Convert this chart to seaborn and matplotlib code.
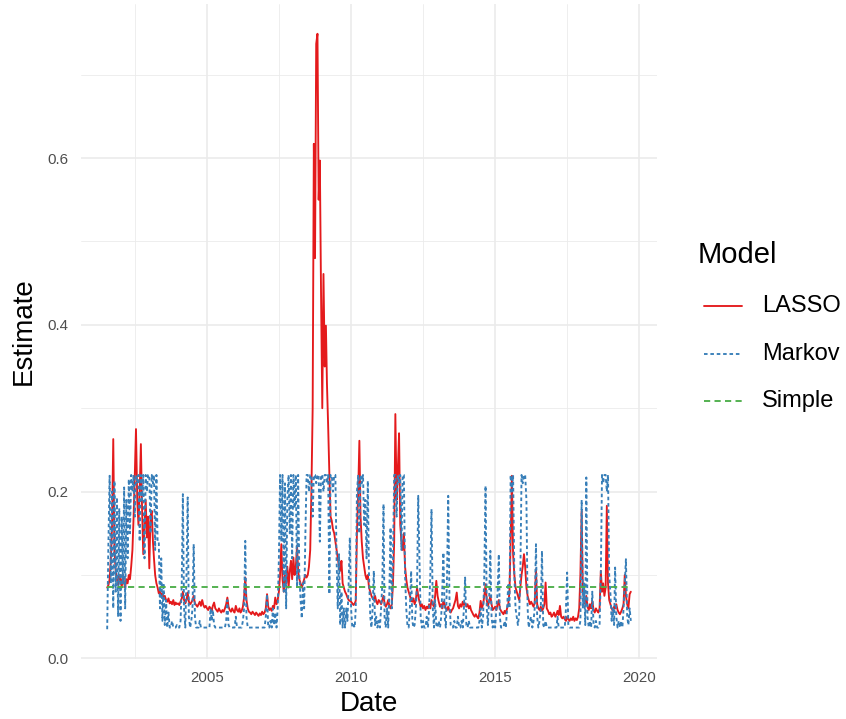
import matplotlib
matplotlib.use("Agg")
import matplotlib.pyplot as plt
import matplotlib.dates as mdates
from matplotlib.lines import Line2D
from matplotlib.ticker import FixedLocator, FuncFormatter
import pandas as pd
import seaborn as sns

# Semi-monthly estimates (1st and 16th of each month), one list per year.
# 2001 starts on 16 July; 2019 ends on 16 September.
lasso_2001 = [0.085, 0.088, 0.095, 0.12, 0.16, 0.263, 0.13, 0.105, 0.095, 0.088, 0.1]
lasso_2002 = [0.095, 0.085, 0.1, 0.09, 0.085, 0.095,
              0.09, 0.1, 0.095, 0.11, 0.13, 0.17,
              0.22, 0.275, 0.19, 0.16, 0.2, 0.257,
              0.18, 0.125, 0.16, 0.19, 0.145, 0.17]
lasso_2003 = [0.108, 0.17, 0.177, 0.14, 0.12, 0.1,
              0.09, 0.085, 0.078, 0.08, 0.075, 0.078,
              0.072, 0.075, 0.07, 0.068, 0.072, 0.066,
              0.068, 0.065, 0.07, 0.064, 0.067, 0.065]
lasso_2004 = [0.066, 0.064, 0.068, 0.072, 0.08, 0.07,
              0.066, 0.07, 0.079, 0.068, 0.065, 0.067,
              0.07, 0.075, 0.066, 0.064, 0.062, 0.065,
              0.068, 0.063, 0.07, 0.064, 0.061, 0.063]
lasso_2005 = [0.06, 0.058, 0.062, 0.06, 0.057, 0.063,
              0.067, 0.06, 0.058, 0.056, 0.06, 0.057,
              0.055, 0.058, 0.056, 0.06, 0.065, 0.073,
              0.062, 0.058, 0.056, 0.06, 0.057, 0.055]
lasso_2006 = [0.063, 0.058, 0.056, 0.06, 0.055, 0.057,
              0.062, 0.073, 0.097, 0.07, 0.06, 0.056,
              0.055, 0.053, 0.056, 0.054, 0.052, 0.055,
              0.053, 0.051, 0.054, 0.052, 0.056, 0.053]
lasso_2007 = [0.055, 0.06, 0.077, 0.062, 0.058, 0.06,
              0.057, 0.063, 0.06, 0.073, 0.065, 0.07,
              0.08, 0.1, 0.137, 0.095, 0.08, 0.1,
              0.09, 0.11, 0.085, 0.105, 0.117, 0.095]
lasso_2008 = [0.121, 0.1, 0.11, 0.135, 0.105, 0.095,
              0.09, 0.085, 0.09, 0.095, 0.1, 0.097,
              0.1, 0.11, 0.13, 0.2, 0.3, 0.617,
              0.48, 0.737, 0.749, 0.55, 0.597, 0.44]
lasso_2009 = [0.3, 0.461, 0.35, 0.399, 0.33, 0.28,
              0.22, 0.17, 0.165, 0.155, 0.15, 0.14,
              0.13, 0.12, 0.11, 0.105, 0.117, 0.09,
              0.085, 0.08, 0.077, 0.073, 0.07, 0.069]
lasso_2010 = [0.068, 0.066, 0.064, 0.066, 0.069, 0.15,
              0.2, 0.261, 0.17, 0.14, 0.12, 0.11,
              0.1, 0.095, 0.1, 0.085, 0.08, 0.075,
              0.072, 0.07, 0.075, 0.068, 0.065, 0.07]
lasso_2011 = [0.068, 0.065, 0.07, 0.075, 0.066, 0.062,
              0.065, 0.07, 0.063, 0.06, 0.065, 0.09,
              0.14, 0.293, 0.19, 0.225, 0.27, 0.16,
              0.14, 0.13, 0.15, 0.11, 0.095, 0.085]
lasso_2012 = [0.08, 0.075, 0.07, 0.068, 0.072, 0.065,
              0.07, 0.085, 0.075, 0.068, 0.062, 0.065,
              0.06, 0.063, 0.058, 0.062, 0.06, 0.065,
              0.06, 0.07, 0.065, 0.062, 0.075, 0.093]
lasso_2013 = [0.075, 0.068, 0.062, 0.065, 0.06, 0.068,
              0.065, 0.06, 0.058, 0.062, 0.057, 0.055,
              0.058, 0.06, 0.065, 0.07, 0.079, 0.063,
              0.06, 0.065, 0.062, 0.068, 0.064, 0.066]
lasso_2014 = [0.062, 0.065, 0.06, 0.063, 0.058, 0.055,
              0.052, 0.05, 0.053, 0.05, 0.048, 0.055,
              0.069, 0.06, 0.065, 0.075, 0.089, 0.07,
              0.063, 0.068, 0.075, 0.065, 0.058, 0.06]
lasso_2015 = [0.062, 0.058, 0.065, 0.07, 0.06, 0.057,
              0.055, 0.053, 0.057, 0.054, 0.06, 0.065,
              0.08, 0.14, 0.219, 0.125, 0.1, 0.085,
              0.08, 0.075, 0.07, 0.085, 0.1, 0.11]
lasso_2016 = [0.125, 0.11, 0.085, 0.075, 0.07, 0.065,
              0.068, 0.065, 0.062, 0.067, 0.107, 0.065,
              0.06, 0.058, 0.062, 0.057, 0.06, 0.065,
              0.091, 0.06, 0.057, 0.053, 0.055, 0.05]
lasso_2017 = [0.052, 0.055, 0.05, 0.053, 0.057, 0.052,
              0.063, 0.05, 0.048, 0.05, 0.047, 0.045,
              0.05, 0.047, 0.045, 0.048, 0.046, 0.05,
              0.045, 0.048, 0.046, 0.05, 0.06, 0.1]
lasso_2018 = [0.177, 0.08, 0.07, 0.065, 0.075, 0.062,
              0.058, 0.065, 0.06, 0.069, 0.058, 0.055,
              0.06, 0.057, 0.055, 0.06, 0.105, 0.08,
              0.09, 0.075, 0.085, 0.183, 0.09, 0.07]
lasso_2019 = [0.065, 0.06, 0.057, 0.062, 0.06, 0.065,
              0.058, 0.055, 0.053, 0.056, 0.06, 0.065,
              0.1, 0.075, 0.065, 0.06, 0.077, 0.08]

markov_2001 = [0.035, 0.14, 0.219, 0.09, 0.2, 0.06, 0.213, 0.08, 0.193, 0.05, 0.18]
markov_2002 = [0.045, 0.17, 0.09, 0.205, 0.06, 0.19,
               0.12, 0.215, 0.15, 0.22, 0.2, 0.22,
               0.17, 0.22, 0.21, 0.22, 0.14, 0.22,
               0.19, 0.22, 0.12, 0.22, 0.2, 0.22]
markov_2003 = [0.22, 0.15, 0.22, 0.21, 0.22, 0.13,
               0.22, 0.14, 0.14, 0.06, 0.12, 0.045,
               0.09, 0.04, 0.07, 0.037, 0.055, 0.037,
               0.037, 0.045, 0.037, 0.037, 0.037, 0.04]
markov_2004 = [0.037, 0.037, 0.045, 0.09, 0.197, 0.06,
               0.037, 0.1, 0.193, 0.05, 0.037, 0.045,
               0.06, 0.137, 0.05, 0.037, 0.037, 0.037,
               0.045, 0.037, 0.037, 0.037, 0.037, 0.037]
markov_2005 = [0.037, 0.037, 0.037, 0.06, 0.045, 0.058,
               0.04, 0.037, 0.037, 0.037, 0.037, 0.037,
               0.037, 0.037, 0.037, 0.037, 0.045, 0.07,
               0.04, 0.037, 0.037, 0.037, 0.037, 0.037]
markov_2006 = [0.05, 0.037, 0.037, 0.037, 0.037, 0.037,
               0.045, 0.06, 0.141, 0.05, 0.037, 0.037,
               0.037, 0.037, 0.037, 0.037, 0.037, 0.037,
               0.037, 0.037, 0.037, 0.037, 0.037, 0.037]
markov_2007 = [0.037, 0.05, 0.077, 0.037, 0.037, 0.045,
               0.037, 0.06, 0.04, 0.055, 0.037, 0.06,
               0.12, 0.22, 0.14, 0.22, 0.08, 0.21,
               0.06, 0.19, 0.22, 0.15, 0.22, 0.12]
markov_2008 = [0.22, 0.18, 0.22, 0.085, 0.22, 0.1,
               0.07, 0.048, 0.09, 0.06, 0.15, 0.22,
               0.22, 0.2, 0.22, 0.22, 0.17, 0.22,
               0.22, 0.21, 0.22, 0.22, 0.14, 0.22]
markov_2009 = [0.22, 0.2, 0.22, 0.22, 0.21, 0.22,
               0.077, 0.22, 0.22, 0.2, 0.22, 0.22,
               0.12, 0.06, 0.125, 0.04, 0.08, 0.037,
               0.06, 0.037, 0.06, 0.045, 0.09, 0.145]
markov_2010 = [0.06, 0.037, 0.04, 0.037, 0.06, 0.2,
               0.22, 0.15, 0.22, 0.21, 0.22, 0.16,
               0.19, 0.12, 0.213, 0.1, 0.05, 0.037,
               0.06, 0.105, 0.04, 0.05, 0.037, 0.045]
markov_2011 = [0.037, 0.06, 0.09, 0.185, 0.05, 0.037,
               0.06, 0.037, 0.08, 0.157, 0.06, 0.12,
               0.22, 0.22, 0.17, 0.22, 0.21, 0.22,
               0.13, 0.22, 0.22, 0.1, 0.06, 0.04]
markov_2012 = [0.037, 0.06, 0.105, 0.045, 0.037, 0.04,
               0.06, 0.09, 0.195, 0.12, 0.05, 0.037,
               0.045, 0.037, 0.037, 0.05, 0.037, 0.06,
               0.1, 0.179, 0.06, 0.037, 0.07, 0.04]
markov_2013 = [0.037, 0.045, 0.037, 0.05, 0.08, 0.127,
               0.05, 0.037, 0.1, 0.195, 0.07, 0.04,
               0.037, 0.037, 0.045, 0.037, 0.037, 0.05,
               0.037, 0.037, 0.045, 0.037, 0.06, 0.097]
markov_2014 = [0.04, 0.037, 0.045, 0.037, 0.037, 0.037,
               0.037, 0.037, 0.037, 0.037, 0.037, 0.045,
               0.06, 0.037, 0.05, 0.1, 0.207, 0.06,
               0.04, 0.07, 0.129, 0.05, 0.037, 0.045]
markov_2015 = [0.037, 0.06, 0.08, 0.125, 0.05, 0.037,
               0.037, 0.037, 0.045, 0.037, 0.06, 0.09,
               0.06, 0.22, 0.2, 0.22, 0.1, 0.06,
               0.05, 0.04, 0.053, 0.1, 0.22, 0.21]
markov_2016 = [0.22, 0.22, 0.19, 0.06, 0.037, 0.045,
               0.05, 0.037, 0.045, 0.06, 0.137, 0.05,
               0.037, 0.045, 0.06, 0.129, 0.04, 0.037,
               0.045, 0.037, 0.037, 0.037, 0.037, 0.037]
markov_2017 = [0.037, 0.037, 0.037, 0.037, 0.05, 0.037,
               0.037, 0.037, 0.037, 0.037, 0.037, 0.06,
               0.103, 0.04, 0.037, 0.037, 0.037, 0.037,
               0.037, 0.037, 0.037, 0.037, 0.037, 0.045]
markov_2018 = [0.19, 0.06, 0.09, 0.04, 0.217, 0.05,
               0.037, 0.045, 0.037, 0.08, 0.04, 0.037,
               0.045, 0.037, 0.037, 0.04, 0.1, 0.22,
               0.21, 0.22, 0.22, 0.2, 0.22, 0.1]
markov_2019 = [0.077, 0.045, 0.06, 0.04, 0.109, 0.05,
               0.037, 0.045, 0.037, 0.045, 0.037, 0.06,
               0.09, 0.119, 0.05, 0.04, 0.06, 0.045]

# The simple model is a single constant estimate
simple_estimate = 0.086

model_names = ["LASSO", "Markov", "Simple"]
model_colors = ["#E41A1C", "#377EB8", "#4DAF4A"]
y_breaks = [0.0, 0.2, 0.4, 0.6]
y_minor = [0.1, 0.3, 0.5, 0.7]
x_break_years = [2005, 2010, 2015, 2020]

lasso_by_year = {2001: lasso_2001, 2002: lasso_2002, 2003: lasso_2003, 2004: lasso_2004,
                 2005: lasso_2005, 2006: lasso_2006, 2007: lasso_2007, 2008: lasso_2008,
                 2009: lasso_2009, 2010: lasso_2010, 2011: lasso_2011, 2012: lasso_2012,
                 2013: lasso_2013, 2014: lasso_2014, 2015: lasso_2015, 2016: lasso_2016,
                 2017: lasso_2017, 2018: lasso_2018, 2019: lasso_2019}
markov_by_year = {2001: markov_2001, 2002: markov_2002, 2003: markov_2003, 2004: markov_2004,
                  2005: markov_2005, 2006: markov_2006, 2007: markov_2007, 2008: markov_2008,
                  2009: markov_2009, 2010: markov_2010, 2011: markov_2011, 2012: markov_2012,
                  2013: markov_2013, 2014: markov_2014, 2015: markov_2015, 2016: markov_2016,
                  2017: markov_2017, 2018: markov_2018, 2019: markov_2019}


def semimonthly_dates(year, n, first_slot):
    return [pd.Timestamp(year, 1 + k // 2, 1 if k % 2 == 0 else 16)
            for k in range(first_slot, first_slot + n)]


def series_frame(by_year, name):
    rows = []
    for year, vals in by_year.items():
        first = 13 if year == 2001 else 0   # 16 July in the first year
        for d, v in zip(semimonthly_dates(year, len(vals), first), vals):
            rows.append((d, v, name))
    return pd.DataFrame(rows, columns=["Date", "Estimate", "Model"])


lasso_df = series_frame(lasso_by_year, "LASSO")
markov_df = series_frame(markov_by_year, "Markov")
simple_df = pd.DataFrame({"Date": lasso_df["Date"],
                          "Estimate": simple_estimate,
                          "Model": "Simple"})
df = pd.concat([lasso_df, markov_df, simple_df], ignore_index=True)

sns.set_theme(style="white")
plt.rcParams["font.family"] = ["Liberation Sans", "DejaVu Sans"]
plt.rcParams["text.color"] = "black"
plt.rcParams["axes.labelcolor"] = "black"

W, H = 846, 719
fig = plt.figure(figsize=(W / 100, H / 100), dpi=100)
ax = fig.add_axes([81 / W, 1 - 659 / H, 576 / W, 655 / H])

lw = 1.35
dash_styles = {"LASSO": "", "Markov": (1.9, 1.5), "Simple": (3.3, 2.3)}
sns.lineplot(data=df, x="Date", y="Estimate", hue="Model", style="Model",
             hue_order=model_names, style_order=model_names,
             palette=dict(zip(model_names, model_colors)),
             dashes=dash_styles, estimator=None, sort=True,
             linewidth=lw, legend=False, ax=ax)
ax.margins(x=0.05, y=0.05)

# Grid in the ggplot minimal style
grid_col = "#EBEBEB"
ax.set_axisbelow(True)
ax.yaxis.set_major_locator(FixedLocator(y_breaks))
ax.yaxis.set_minor_locator(FixedLocator(y_minor))
ax.yaxis.set_major_formatter(FuncFormatter(lambda v, p: f"{v:.1f}"))
ax.xaxis.set_major_locator(FixedLocator([mdates.date2num(pd.Timestamp(y, 1, 1)) for y in x_break_years]))
ax.xaxis.set_minor_locator(FixedLocator([mdates.date2num(pd.Timestamp(y, 7, 2)) for y in (2002, 2007, 2012, 2017)]))
ax.xaxis.set_major_formatter(mdates.DateFormatter("%Y"))
ax.grid(which="major", color=grid_col, linewidth=1.2)
ax.grid(which="minor", color=grid_col, linewidth=0.6)
for s in ax.spines.values():
    s.set_visible(False)
ax.tick_params(which="both", length=0)
ax.tick_params(axis="y", labelsize=10.8, labelcolor="#4D4D4D", pad=9)
ax.tick_params(axis="x", labelsize=10.8, labelcolor="#4D4D4D", pad=9)
ax.set_xlabel("Date", fontsize=20, color="black", labelpad=4)
ax.set_ylabel("Estimate", fontsize=20, color="black", labelpad=8)

# Legend
fig.text(698 / W, 1 - 255 / H, "Model", fontsize=21, va="center", ha="left", color="black")
key_styles = ["-", (0, (1.9, 1.5)), (0, (3.3, 2.3))]
for i, (name, col, ls) in enumerate(zip(model_names, model_colors, key_styles)):
    yk = 1 - (306 + 47.5 * i) / H
    fig.add_artist(Line2D([704 / W, 742 / W], [yk, yk], color=col, linewidth=lw,
                          linestyle=ls, transform=fig.transFigure))
    fig.text(762 / W, yk, name, fontsize=17, va="center", ha="left", color="black")

fig.savefig("out.png", dpi=100)
